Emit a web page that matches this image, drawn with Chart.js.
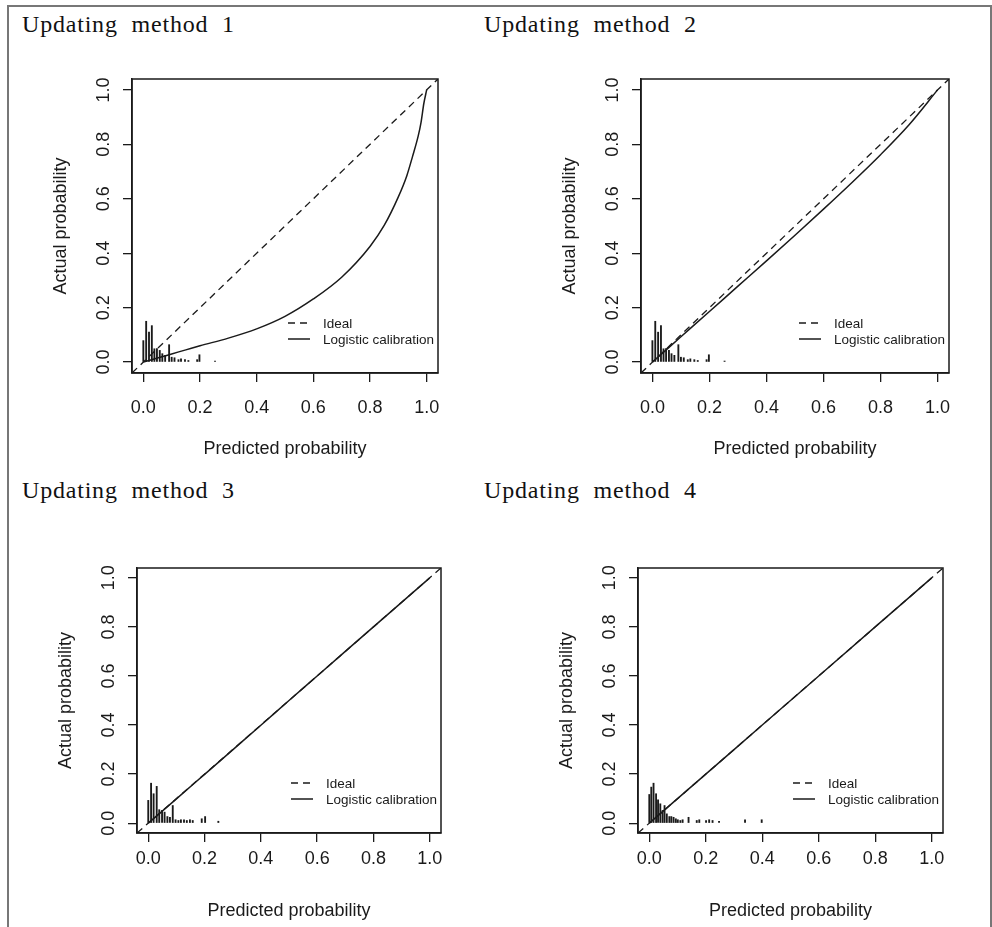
<!DOCTYPE html>
<html>
<head>
<meta charset="utf-8">
<script src="https://cdn.jsdelivr.net/npm/chart.js@4.4.1/dist/chart.umd.min.js"></script>
<style>
  body { margin: 0; background: #fff; }
  #page { position: relative; width: 992px; height: 927px; overflow: hidden; background: #fff; }
  #frame { position: absolute; left: 7px; top: 5px; width: 981px; height: 940px;
           border-left: 2px solid #777; border-top: 2px solid #777; border-right: 2px solid #777; }
  .ttl { position: absolute; font-family: "Liberation Serif", serif; font-size: 24px; line-height: 24px;
         letter-spacing: 0.8px; word-spacing: 7px; color: #111; white-space: nowrap; }
  canvas { position: absolute; }
</style>
</head>
<body>
<div id="page"><div id="frame"></div></div>
<script>
// axis ticks shared by all four panels
const xTicks = [0, 0.2, 0.4, 0.6, 0.8, 1.0];
const yTicks = [0, 0.2, 0.4, 0.6, 0.8, 1.0];
const tickLabels = ['0.0', '0.2', '0.4', '0.6', '0.8', '1.0'];
const axisMin = -0.04, axisMax = 1.04;

// ideal line (abline 0,1) across the whole plot region
const idealX = [-0.04, 1.04];
const idealY = [-0.04, 1.04];

// logistic calibration curves
const cal1X = [0, 0.02, 0.05, 0.1, 0.15, 0.2, 0.3, 0.4, 0.5, 0.6, 0.7, 0.8, 0.85, 0.9, 0.93, 0.95, 0.97, 0.98, 0.99, 1.0];
const cal1Y = [0, 0.006, 0.015, 0.03, 0.045, 0.06, 0.088, 0.122, 0.168, 0.232, 0.312, 0.425, 0.502, 0.607, 0.685, 0.755, 0.83, 0.88, 0.95, 1.0];
const cal2X = [0, 0.1, 0.2, 0.3, 0.4, 0.5, 0.6, 0.7, 0.8, 0.9, 1.0];
const cal2Y = [0, 0.093, 0.186, 0.279, 0.372, 0.466, 0.562, 0.66, 0.762, 0.872, 1.0];
const cal3X = [0, 0.1, 0.2, 0.3, 0.4, 0.5, 0.6, 0.7, 0.8, 0.9, 1.0];
const cal3Y = [0, 0.099, 0.199, 0.299, 0.399, 0.5, 0.6, 0.7, 0.8, 0.9, 1.0];
const cal4X = [0, 0.2, 0.4, 0.6, 0.8, 1.0];
const cal4Y = [0, 0.2, 0.4, 0.6, 0.8, 1.0];

// spike histograms of predicted probabilities
const spikeAX = [0.0, 0.01, 0.02, 0.03, 0.039, 0.048, 0.058, 0.067, 0.077, 0.091, 0.1, 0.11, 0.124, 0.133, 0.147, 0.159, 0.19, 0.198, 0.253];
const spikeAY = [0.079, 0.15, 0.11, 0.134, 0.049, 0.05, 0.043, 0.031, 0.025, 0.064, 0.018, 0.016, 0.009, 0.012, 0.009, 0.006, 0.009, 0.027, 0.004];
const spikeBX = [0.0, 0.01, 0.019, 0.03, 0.039, 0.049, 0.058, 0.068, 0.077, 0.087, 0.097, 0.107, 0.116, 0.127, 0.137, 0.148, 0.158, 0.19, 0.202, 0.249];
const spikeBY = [0.093, 0.163, 0.12, 0.15, 0.055, 0.052, 0.045, 0.027, 0.024, 0.072, 0.014, 0.011, 0.014, 0.014, 0.011, 0.014, 0.011, 0.018, 0.027, 0.008];
const spikeCX = [0.0, 0.007, 0.015, 0.024, 0.031, 0.039, 0.047, 0.054, 0.062, 0.071, 0.078, 0.086, 0.094, 0.101, 0.11, 0.118, 0.139, 0.168, 0.177, 0.201, 0.212, 0.224, 0.247, 0.339, 0.398];
const spikeCY = [0.117, 0.147, 0.163, 0.12, 0.095, 0.079, 0.052, 0.072, 0.038, 0.027, 0.027, 0.024, 0.018, 0.014, 0.011, 0.014, 0.024, 0.011, 0.014, 0.011, 0.014, 0.011, 0.008, 0.014, 0.014];

const font = 'Liberation Sans';
const ink = '#1a1a1a';

const page = document.getElementById('page');

// R style box around the plot region
const boxPlugin = {
  id: 'rbox',
  afterDatasetsDraw(chart) {
    const a = chart.chartArea, ctx = chart.ctx;
    ctx.save();
    ctx.strokeStyle = ink;
    ctx.lineWidth = 1.5;
    ctx.strokeRect(a.left, a.top, a.right - a.left, a.bottom - a.top);
    ctx.restore();
  }
};

// bottomright legend like val.prob
const calLegend = {
  id: 'calLegend',
  afterDraw(chart) {
    const a = chart.chartArea, ctx = chart.ctx;
    const items = chart.data.datasets.filter(d => d.type === 'line');
    ctx.save();
    ctx.strokeStyle = ink;
    ctx.fillStyle = ink;
    ctx.font = '13.5px "' + font + '"';
    ctx.textBaseline = 'middle';
    items.forEach((d, i) => {
      const y = a.bottom - 50 + i * 16;
      ctx.lineWidth = d.borderWidth;
      ctx.setLineDash(d.borderDash || []);
      ctx.beginPath();
      ctx.moveTo(a.right - 150, y);
      ctx.lineTo(a.right - 128, y);
      ctx.stroke();
      ctx.setLineDash([]);
      ctx.fillText(d.label, a.right - 115, y + 1);
    });
    ctx.restore();
  }
};

function pts(xs, ys) {
  return xs.map((x, i) => ({ x: x, y: ys[i] }));
}

function buildPanel(p) {
  const [L, T, R, B] = p.box;
  const cx = L - 102, cy = T - 19;
  const w = R + 42 - cx, h = B + 97 - cy;

  const ttl = document.createElement('div');
  ttl.className = 'ttl';
  ttl.textContent = p.title;
  ttl.style.left = p.titlePos[0] + 'px';
  ttl.style.top = p.titlePos[1] + 'px';
  page.appendChild(ttl);

  const cv = document.createElement('canvas');
  cv.width = w; cv.height = h;
  cv.style.left = cx + 'px'; cv.style.top = cy + 'px';
  cv.style.width = w + 'px'; cv.style.height = h + 'px';
  page.appendChild(cv);

  new Chart(cv, {
    type: 'scatter',
    data: {
      datasets: [
        { type: 'bar', label: 'spikes', data: pts(p.spX, p.spY), backgroundColor: ink,
          barThickness: 1.2, borderWidth: 0 },
        { type: 'line', label: 'Ideal', data: pts(idealX, idealY), showLine: true,
          borderColor: ink, borderWidth: 1.3, borderDash: [7, 5], pointRadius: 0, fill: false },
        { type: 'line', label: 'Logistic calibration', data: pts(p.calX, p.calY), showLine: true,
          borderColor: ink, borderWidth: 1.5, pointRadius: 0, fill: false, cubicInterpolationMode: 'monotone' }
      ]
    },
    options: {
      responsive: false,
      animation: false,
      devicePixelRatio: 1,
      layout: { padding: { left: 0, top: 19, right: 42, bottom: 0 } },
      plugins: { legend: { display: false }, tooltip: { enabled: false } },
      scales: {
        x: {
          type: 'linear', min: axisMin, max: axisMax, offset: false,
          afterBuildTicks: s => { s.ticks = xTicks.map(v => ({ value: v })); },
          afterFit: s => { s.height = 97; },
          ticks: { callback: v => tickLabels[xTicks.indexOf(v)], font: { family: font, size: 18 },
                   color: ink, padding: p.xLabPad, maxRotation: 0, autoSkip: false },
          grid: { drawOnChartArea: false, drawTicks: true, tickLength: 9, color: ink, lineWidth: 1.3, offset: false },
          border: { display: true, color: ink, width: 1.5 },
          title: { display: true, text: 'Predicted probability', font: { family: font, size: 18 },
                   color: ink, padding: { top: 0, bottom: p.xTitlePad } }
        },
        y: {
          type: 'linear', min: axisMin, max: axisMax,
          afterBuildTicks: s => { s.ticks = yTicks.map(v => ({ value: v })); },
          afterFit: s => { s.width = 102; },
          ticks: { callback: v => tickLabels[yTicks.indexOf(v)], font: { family: font, size: 18 },
                   color: ink, padding: 6.5, minRotation: 90, maxRotation: 90, crossAlign: 'center', autoSkip: false },
          grid: { drawOnChartArea: false, drawTicks: true, tickLength: 9, color: ink, lineWidth: 1.3 },
          border: { display: true, color: ink, width: 1.5 },
          title: { display: true, text: 'Actual probability', font: { family: font, size: 18 },
                   color: ink, padding: { top: 20.2, bottom: 0 } }
        }
      }
    },
    plugins: [boxPlugin, calLegend]
  });
}

const panels = [
  { title: 'Updating method 1', titlePos: [22, 12], box: [132, 79, 438, 373], xLabPad: 15, xTitlePad: 10.2,
    calX: cal1X, calY: cal1Y, spX: spikeAX, spY: spikeAY },
  { title: 'Updating method 2', titlePos: [484, 12], box: [641, 79, 949, 373], xLabPad: 15, xTitlePad: 10.2,
    calX: cal2X, calY: cal2Y, spX: spikeAX, spY: spikeAY },
  { title: 'Updating method 3', titlePos: [22, 478], box: [137, 568, 441, 833], xLabPad: 6, xTitlePad: 8.2,
    calX: cal3X, calY: cal3Y, spX: spikeBX, spY: spikeBY },
  { title: 'Updating method 4', titlePos: [484, 478], box: [638, 568, 943, 833], xLabPad: 6, xTitlePad: 8.2,
    calX: cal4X, calY: cal4Y, spX: spikeCX, spY: spikeCY }
];

panels.forEach(buildPanel);
</script>
</body>
</html>
